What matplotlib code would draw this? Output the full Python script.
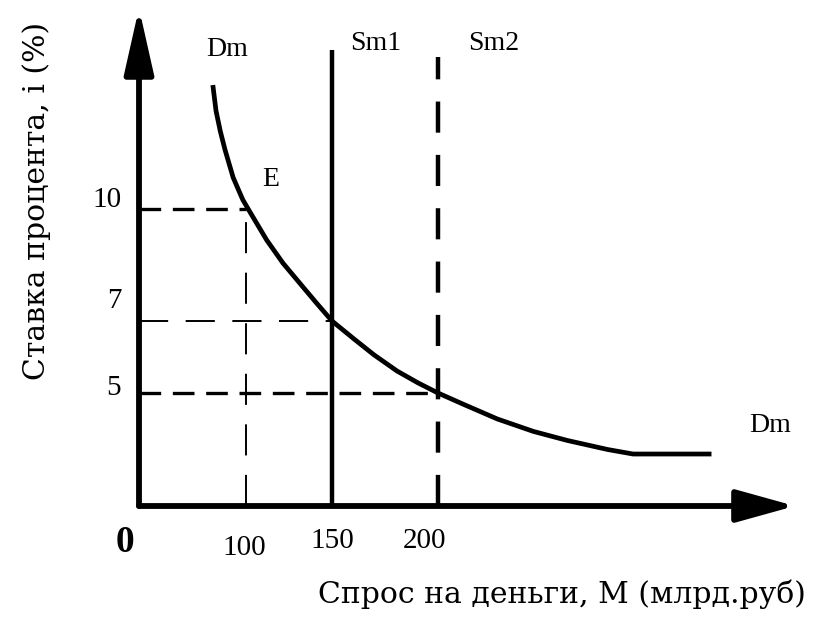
import numpy as np
import matplotlib
matplotlib.use("Agg")
import matplotlib.pyplot as plt

# demand for money curve Dm (M in bln rub, i in %)
dm_m = [69, 72, 76, 80.4, 88, 97, 102.3, 112, 121.5, 131.5, 141, 150, 160.4, 169.8, 180.7,
        190.6, 200, 212, 228, 245, 261, 280, 292, 329]
dm_i = [13.35, 12.65, 12.1, 11.6, 10.85, 10.25, 9.92, 9.17, 8.55, 8.0, 7.48, 7, 6.5, 6.06, 5.61,
        5.28, 5, 4.5, 3.85, 3.3, 2.9, 2.5, 2.3, 2.3]

# money supply lines
sm1 = 150
sm2 = 200
sm1_top = 14.3
sm2_top = 14.1

# guide points on the curve
m_ticks = [100, 150, 200]
i_ticks = [10, 7, 5]

# the source drawing is schematic: axis spacing is not linear
M_KNOTS = [0, 100, 150, 200, 400]
M_POS = [0, 107, 193, 299, 723]
I_KNOTS = [0, 5, 7, 10, 20]
I_POS = [0, 113, 185, 297, 667]


def m_fwd(x):
    return np.interp(x, M_KNOTS, M_POS)


def m_inv(p):
    return np.interp(p, M_POS, M_KNOTS)


def i_fwd(y):
    return np.interp(y, I_KNOTS, I_POS)


def i_inv(p):
    return np.interp(p, I_POS, I_KNOTS)


W, H = 815, 619
ox, oy = 139, 506  # origin in pixels

plt.rcParams['font.family'] = ['Liberation Serif', 'DejaVu Serif']

fig = plt.figure(figsize=(W / 100, H / 100), dpi=100)
ax = fig.add_axes([ox / W, (H - oy) / H, (W - ox) / W, oy / H])
ax.set_xscale('function', functions=(m_fwd, m_inv))
ax.set_yscale('function', functions=(i_fwd, i_inv))
ax.set_xlim(0, float(m_inv(W - ox)))
ax.set_ylim(0, float(i_inv(oy)))
ax.axis('off')


def fxy(px, py):
    return px / W, 1 - py / H


# axes with arrows
x_end = float(m_inv(795 - ox))
y_end = float(i_inv(oy - 8))
ax.annotate('', xy=(x_end, 0), xytext=(0, 0),
            arrowprops=dict(arrowstyle='-|>,head_length=1.8,head_width=0.5',
                            lw=4.2, color='black', mutation_scale=20,
                            shrinkA=0, shrinkB=0))
ax.annotate('', xy=(0, y_end), xytext=(0, 0),
            arrowprops=dict(arrowstyle='-|>,head_length=2.0,head_width=0.45',
                            lw=4.2, color='black', mutation_scale=20,
                            shrinkA=0, shrinkB=0))

# demand curve
ax.plot(dm_m, dm_i, color='black', lw=3.4, solid_capstyle='butt', solid_joinstyle='round')

# supply lines
ax.plot([sm1, sm1], [0, sm1_top], color='black', lw=3.2, solid_capstyle='butt')
ax.plot([sm2, sm2], [0, sm2_top], color='black', lw=3.2, dashes=(7, 5))

# dashed guides
ax.plot([0, m_ticks[0]], [i_ticks[0], i_ticks[0]], color='black', lw=2.4, dashes=(6.5, 3.5))
ax.plot([m_ticks[0], m_ticks[0]], [0, i_ticks[0]], color='black', lw=1.4, dashes=(16, 10))
ax.plot([0, m_ticks[1]], [i_ticks[1], i_ticks[1]], color='black', lw=1.4, dashes=(15, 9))
ax.plot([0, m_ticks[2]], [i_ticks[2], i_ticks[2]], color='black', lw=2.4, dashes=(6.5, 3.5))

# labels
fs = 20
fig.text(*fxy(227, 50), 'Dm', fontsize=fs, ha='center', va='center')
fig.text(*fxy(376, 43), 'Sm1', fontsize=fs, ha='center', va='center')
fig.text(*fxy(494, 43), 'Sm2', fontsize=fs, ha='center', va='center')
fig.text(*fxy(271, 179), 'E', fontsize=fs, ha='center', va='center')
fig.text(*fxy(770, 426), 'Dm', fontsize=fs, ha='center', va='center')

tfs = 21
fig.text(*fxy(107, 200), str(i_ticks[0]), fontsize=tfs, ha='center', va='center')
fig.text(*fxy(114, 301), str(i_ticks[1]), fontsize=tfs, ha='center', va='center')
fig.text(*fxy(113, 388), str(i_ticks[2]), fontsize=tfs, ha='center', va='center')

fig.text(*fxy(244, 548), str(m_ticks[0]), fontsize=tfs, ha='center', va='center')
fig.text(*fxy(332, 541), str(m_ticks[1]), fontsize=tfs, ha='center', va='center')
fig.text(*fxy(425, 541), str(m_ticks[2]), fontsize=tfs, ha='center', va='center')
fig.text(*fxy(125, 543), '0', fontsize=27, fontweight='bold', ha='center', va='center')

lfs = 21.5
fig.text(*fxy(562, 594), 'Спрос на деньги, М (млрд.руб)', fontsize=lfs, ha='center', va='center',
         family='DejaVu Serif')
fig.text(*fxy(37, 201), 'Ставка процента, i (%)', fontsize=lfs, ha='center', va='center',
         rotation=90, family='DejaVu Serif')

fig.savefig('out.png', dpi=100)
